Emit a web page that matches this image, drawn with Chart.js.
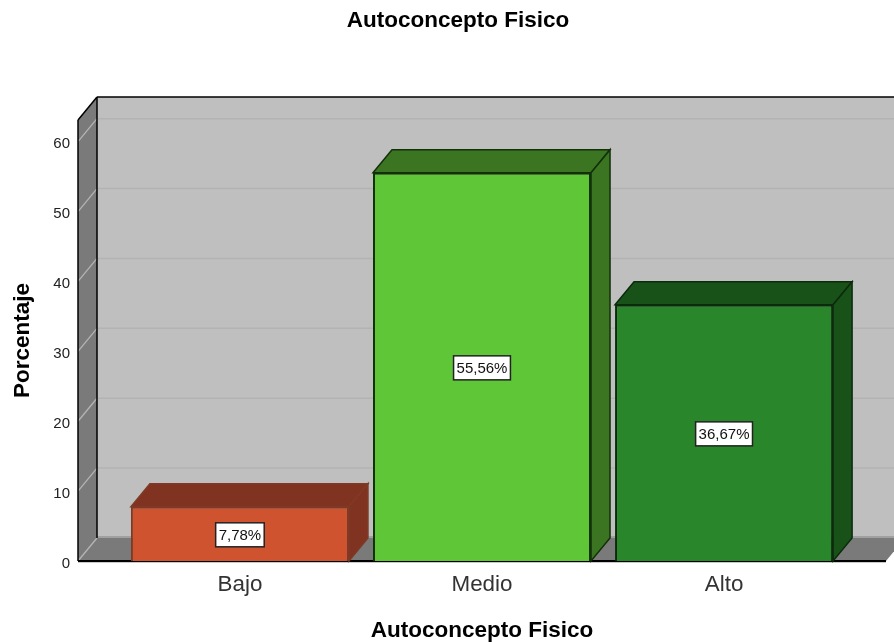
<!DOCTYPE html>
<html>
<head>
<meta charset="utf-8">
<style>html,body{margin:0;padding:0;background:#fff}canvas{display:block}</style>
<script src="https://cdn.jsdelivr.net/npm/chart.js@4"></script>
</head>
<body>
<canvas id="c" width="894" height="642"></canvas>
<script>
const categories = ["Bajo", "Medio", "Alto"];
const percentages = [7.78, 55.56, 36.67];
const frontColors = ["#D0532F", "#5FC637", "#2A862A"];
const depthColors = ["#7F3320", "#3B7522", "#195219"];
const edgeColors = ["#7F3A25", "#12300A", "#0C2A0C"];
const chartTitle = "Autoconcepto Fisico";
const yTitle = "Porcentaje";
const FONT = '"Liberation Sans", Arial, sans-serif';
const DX = 19, DY = 23;

function poly(ctx, pts, fill, stroke, lw) {
  ctx.beginPath();
  pts.forEach((p, i) => i ? ctx.lineTo(p[0], p[1]) : ctx.moveTo(p[0], p[1]));
  ctx.closePath();
  if (fill) { ctx.fillStyle = fill; ctx.fill(); }
  if (stroke) { ctx.strokeStyle = stroke; ctx.lineWidth = lw || 1; ctx.stroke(); }
}
function line(ctx, a, b, color, lw) {
  ctx.beginPath(); ctx.moveTo(a[0], a[1]); ctx.lineTo(b[0], b[1]);
  ctx.strokeStyle = color; ctx.lineWidth = lw; ctx.stroke();
}

const box3d = {
  id: "box3d",
  afterLayout(chart) {
    const t = chart.titleBlock;
    t.left = 2 * 458 - t.right;
  },
  beforeDatasetsDraw(chart) {
    const { ctx, chartArea: a, scales: { y } } = chart;
    ctx.save();
    // back wall
    poly(ctx, [[a.left + DX, a.top - DY], [a.right + DX, a.top - DY], [a.right + DX, a.bottom - DY], [a.left + DX, a.bottom - DY]], "#BFBFBF");
    // gridlines on the back wall
    y.ticks.forEach(t => {
      const py = y.getPixelForValue(t.value) - DY;
      if (t.value > 0) line(ctx, [a.left + DX, py], [a.right + DX, py], "#B3B3B3", 1.5);
    });
    // floor
    poly(ctx, [[a.left, a.bottom], [a.left + DX, a.bottom - DY], [a.right + DX, a.bottom - DY], [a.right, a.bottom]], "#7A7A7A");
    line(ctx, [a.left + DX, a.bottom - DY - 1], [a.right + DX, a.bottom - DY - 1], "#A0A0A0", 2);
    // left wall
    poly(ctx, [[a.left, a.top], [a.left + DX, a.top - DY], [a.left + DX, a.bottom - DY], [a.left, a.bottom]], "#7A7A7A");
    y.ticks.forEach(t => {
      const py = y.getPixelForValue(t.value);
      line(ctx, [a.left, py], [a.left + DX, py - DY], "#B4B4B4", 1.3);
    });
    // frame
    line(ctx, [a.left + DX, a.top - DY], [a.right + DX, a.top - DY], "#000", 1.5);
    line(ctx, [a.left, a.top], [a.left + DX, a.top - DY], "#000", 1.5);
    line(ctx, [a.left + DX, a.top - DY], [a.left + DX, a.bottom - DY], "#000", 1.5);
    line(ctx, [a.left, a.top], [a.left, a.bottom], "#000", 1.5);
    line(ctx, [a.left, a.bottom], [a.right, a.bottom], "#000", 2);
    line(ctx, [a.left, a.bottom + 1.5], [a.right, a.bottom + 1.5], "#C8C8C8", 1);
    // bar depth faces
    chart.getDatasetMeta(0).data.forEach((bar, i) => {
      const l = bar.x - bar.width / 2, r = bar.x + bar.width / 2;
      poly(ctx, [[l, bar.y], [l + DX, bar.y - DY], [r + DX, bar.y - DY], [r, bar.y]], depthColors[i], edgeColors[i], 1.5);
      poly(ctx, [[r, bar.y], [r + DX, bar.y - DY], [r + DX, bar.base - DY], [r, bar.base]], depthColors[i], edgeColors[i], 1.5);
    });
    ctx.restore();
  },
  afterDatasetsDraw(chart) {
    const { ctx } = chart;
    ctx.save();
    ctx.font = "15px " + FONT;
    ctx.textAlign = "center";
    ctx.textBaseline = "middle";
    chart.getDatasetMeta(0).data.forEach((bar, i) => {
      const text = percentages[i].toFixed(2).replace(".", ",") + "%";
      const w = ctx.measureText(text).width + 6, h = 24;
      const cy = (bar.y + bar.base) / 2 + 1;
      ctx.fillStyle = "#fff";
      ctx.fillRect(bar.x - w / 2, cy - h / 2, w, h);
      ctx.strokeStyle = "#222";
      ctx.lineWidth = 1.5;
      ctx.strokeRect(bar.x - w / 2, cy - h / 2, w, h);
      ctx.fillStyle = "#111";
      ctx.fillText(text, bar.x, cy + 1);
    });
    ctx.restore();
  }
};

new Chart(document.getElementById("c"), {
  type: "bar",
  data: {
    datasets: [{
      data: percentages.map((v, i) => ({ x: i, y: v })),
      backgroundColor: frontColors,
      borderColor: edgeColors,
      borderWidth: 2,
      barPercentage: 0.9008,
      categoryPercentage: 1
    }]
  },
  options: {
    responsive: false,
    animation: false,
    layout: { padding: { left: 0, right: 8, top: 0, bottom: 0 } },
    plugins: {
      legend: { display: false },
      tooltip: { enabled: false },
      title: {
        display: true,
        text: chartTitle,
        color: "#000",
        font: { family: FONT, size: 22.5, weight: "bold" },
        padding: { top: 7, bottom: 86 }
      }
    },
    scales: {
      x: {
        type: "linear",
        offset: false,
        min: -0.669,
        max: 2.669,
        afterFit(s) { s.height = 81; },
        grid: { display: false },
        border: { display: false },
        ticks: {
          stepSize: 1,
          includeBounds: false,
          autoSkip: false,
          maxRotation: 0,
          padding: 2,
          color: "#333",
          font: { family: FONT, size: 22.4 },
          callback: v => categories[v] ?? ""
        },
        title: {
          display: true,
          text: chartTitle,
          color: "#000",
          font: { family: FONT, size: 22.5, weight: "bold" },
          padding: { top: 0, bottom: -2 }
        }
      },
      y: {
        min: 0,
        max: 63.1,
        afterFit(s) { s.width = 78; },
        grid: { display: false },
        border: { display: false },
        ticks: {
          stepSize: 10,
          includeBounds: false,
          padding: 0,
          labelOffset: 2.5,
          color: "#222",
          font: { family: FONT, size: 15 }
        },
        title: {
          display: true,
          text: yTitle,
          color: "#000",
          font: { family: FONT, size: 22.5, weight: "bold" },
          padding: { top: 9, bottom: 0 }
        }
      }
    }
  },
  plugins: [box3d]
});
</script>
</body>
</html>
